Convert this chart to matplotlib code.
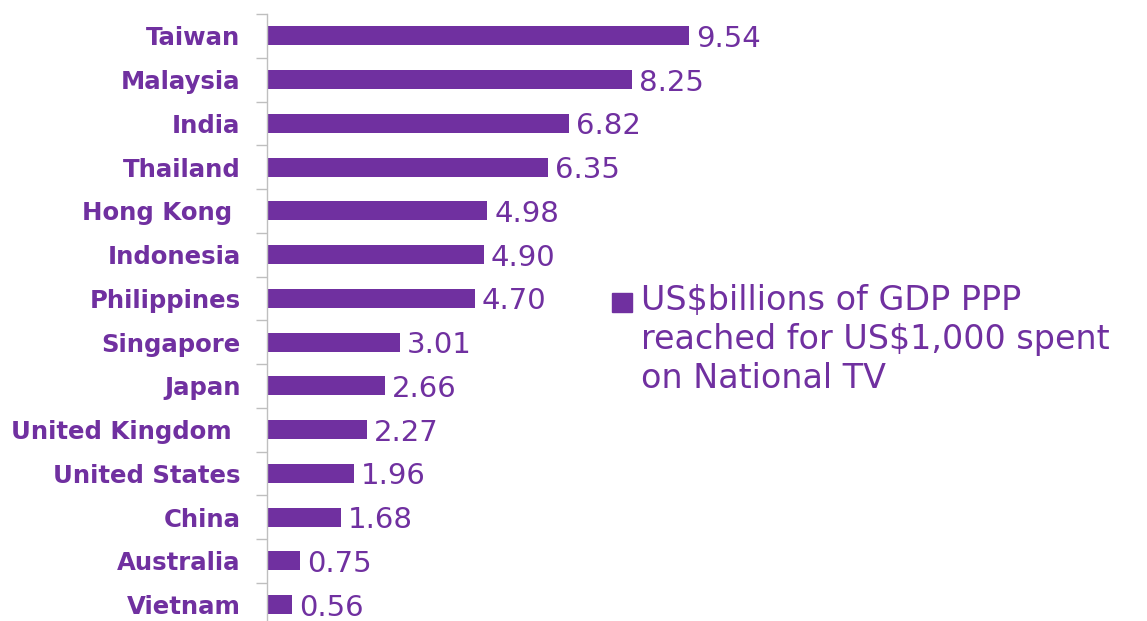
import matplotlib.pyplot as plt
from matplotlib.patches import Rectangle

countries = [
    "Taiwan", "Malaysia", "India", "Thailand", "Hong Kong ", "Indonesia",
    "Philippines", "Singapore", "Japan", "United Kingdom ", "United States",
    "China", "Australia", "Vietnam",
]
gdp_reach = [9.54, 8.25, 6.82, 6.35, 4.98, 4.90, 4.70, 3.01, 2.66, 2.27,
             1.96, 1.68, 0.75, 0.56]
legend_text = "US$billions of GDP PPP\nreached for US$1,000 spent\non National TV"

purple = "#7030A0"
grey = "#BFBFBF"

W, H = 1147, 621
fig = plt.figure(figsize=(W / 100, H / 100), dpi=100)

# axes placed in pixels: spine at x=267, rows 43.75 px apart
row = 43.75
top = 14.1
ax = fig.add_axes([267 / W, 1 - (top + row * len(countries)) / H,
                   442.3 / W, row * len(countries) / H])

pos = list(range(len(countries)))
ax.barh(pos, gdp_reach, height=0.434, color=purple, zorder=2)
for p, v in zip(pos, gdp_reach):
    ax.annotate(f"{v:.2f}", xy=(v, p), xytext=(5, 0), textcoords="offset points",
                va="center_baseline", ha="left", fontsize=21, color=purple,
                family="DejaVu Sans")

ax.set_xlim(0, 10)
ax.set_ylim(len(countries) - 0.5, -0.5)

ax.set_yticks(pos)
ax.set_yticklabels(countries, fontsize=17.6, fontweight="bold", color=purple,
                   family="DejaVu Sans")
ax.set_yticks([p - 0.5 for p in pos] + [len(countries) - 0.5], minor=True)
ax.tick_params(axis="y", which="major", length=0, pad=19)
ax.tick_params(axis="y", which="minor", length=8, width=1, color=grey)
ax.set_xticks([])

for s in ["top", "right", "bottom"]:
    ax.spines[s].set_visible(False)
ax.spines["left"].set_color(grey)
ax.spines["left"].set_linewidth(1)

# legend: square key with three lines of text beside it
fig.add_artist(Rectangle((612 / W, 1 - 312 / H), 20 / W, 19 / H,
                         transform=fig.transFigure, color=purple))
fig.text(641 / W, 1 - 284 / H, legend_text, ha="left", va="top",
         fontsize=24, color=purple, linespacing=1.24, family="DejaVu Sans")

fig.savefig("out.png", dpi=100)
